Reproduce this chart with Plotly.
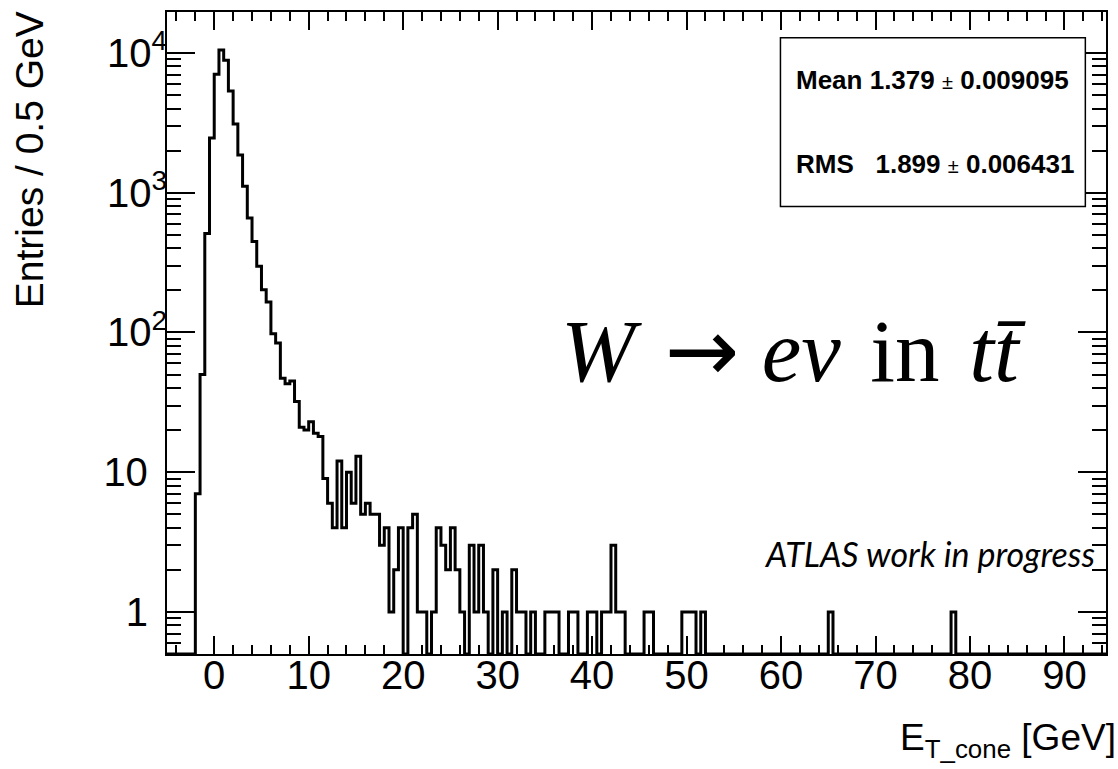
import math
import plotly.graph_objects as go

# ---------------- data ----------------
BIN_WIDTH = 0.5
X_RANGE = [-5.0, 94.4]
Y_MIN = 0.5
Y_MAX_LOG = 4.293
FIRST_BIN_LOW = -2.0          # low edge of first non-empty bin
HIST_LOW, HIST_HIGH = -5.0, 94.5

counts = [
    7, 50, 510, 2460, 7040, 10500, 8870, 5350, 3100, 1860,        # -2.0 .. 2.5
    1110, 660, 447, 298, 202, 165, 98, 84, 47, 43,                 # 3.0 .. 7.5
    45, 32, 21, 20, 23, 19, 18, 9, 6, 4,                           # 8.0 .. 12.5
    12, 4, 10, 6, 13, 5, 6, 5, 5, 3,                               # 13.0 .. 17.5
    4, 1, 2, 4, 0, 4, 5, 1, 1, 0,                                  # 18.0 .. 22.5
    1, 4, 3, 2, 4, 2, 1, 0, 3, 1,                                  # 23.0 .. 27.5
    3, 1, 0, 2, 0, 1, 0, 2, 1, 1,                                  # 28.0 .. 32.5
    0, 1, 0, 0, 1, 1, 1, 0, 0, 1,                                  # 33.0 .. 37.5
    1, 0, 0, 1, 1, 0, 1, 1, 3, 1,                                  # 38.0 .. 42.5
    1, 0, 0, 0, 0, 1, 1, 0, 0, 0,                                  # 43.0 .. 47.5
    0, 0, 0, 1, 1, 1, 0, 1, 0, 0,                                  # 48.0 .. 52.5
    0, 0, 0, 0, 0, 0, 0, 0, 0, 0,                                  # 53.0 .. 57.5
    0, 0, 0, 0, 0, 0, 0, 0, 0, 0,                                  # 58.0 .. 62.5
    0, 0, 0, 0, 1, 0, 0, 0, 0, 0,                                  # 63.0 .. 67.5
    0, 0, 0, 0, 0, 0, 0, 0, 0, 0,                                  # 68.0 .. 72.5
    0, 0, 0, 0, 0, 0, 0, 0, 0, 0,                                  # 73.0 .. 77.5
    1,                                                             # 78.0
]

x_tick_vals = [0, 10, 20, 30, 40, 50, 60, 70, 80, 90]
x_tick_text = ["0", "10", "20", "30", "40", "50", "60", "70", "80", "90"]
y_tick_vals = [1, 10, 100, 1000, 10000]
y_tick_text = ["1\u00a0\u2009", "10\u00a0\u2009", "10<sup>2</sup>", "10<sup>3</sup>", "10<sup>4</sup>"]
y_minor_vals = [m * 10 ** k for k in range(-1, 5) for m in range(2, 10)
                if Y_MIN < m * 10 ** k < 10 ** Y_MAX_LOG]

stat_mean, stat_mean_err = "1.379", "0.009095"
stat_rms, stat_rms_err = "1.899", "0.006431"

x_title = "E<sub>T_cone</sub> [GeV]"
y_title = "Entries / 0.5 GeV"
label_text = "ATLAS work in progress"

# ---------------- build histogram outline ----------------
n_bins = int(round((HIST_HIGH - HIST_LOW) / BIN_WIDTH))
n_pre = int(round((FIRST_BIN_LOW - HIST_LOW) / BIN_WIDTH))
all_counts = [0] * n_pre + counts
all_counts += [0] * (n_bins - len(all_counts))
lows = [HIST_LOW + i * BIN_WIDTH for i in range(n_bins)]
vals = [c if c > 0 else Y_MIN for c in all_counts]
end = HIST_LOW + n_bins * BIN_WIDTH
xs = [lows[0]] + lows + [end, end]
ys = [Y_MIN] + vals + [vals[-1], Y_MIN]

SANS = "Liberation Sans, Arial, Helvetica, sans-serif"
SERIF = "Liberation Serif, DejaVu Serif, serif"

fig = go.Figure()
fig.add_trace(go.Scatter(x=xs, y=ys, mode="lines", line=dict(shape="hv", color="black", width=3),
                         hoverinfo="skip", showlegend=False))

axis_common = dict(showline=True, linecolor="black", linewidth=2, mirror="allticks",
                   showgrid=False, zeroline=False, ticks="inside", tickcolor="black",
                   tickwidth=1.5, tickfont=dict(family=SANS, size=40, color="black"))

fig.update_xaxes(range=X_RANGE, tickmode="array", tickvals=x_tick_vals, ticktext=x_tick_text,
                 ticklen=18, ticklabelstandoff=-15,
                 minor=dict(dtick=2, tick0=0, ticklen=9, ticks="inside",
                            tickcolor="black", tickwidth=1.5),
                 **axis_common)
fig.update_yaxes(type="log", range=[math.log10(Y_MIN), Y_MAX_LOG],
                 tickmode="array", tickvals=y_tick_vals, ticktext=y_tick_text,
                 ticklen=28, ticklabelstandoff=-10,
                 minor=dict(tickmode="array", tickvals=y_minor_vals, ticklen=14,
                            ticks="inside", tickcolor="black", tickwidth=1.5),
                 **axis_common)

# stats box
fig.add_shape(type="rect", xref="paper", yref="paper", x0=0.6533, x1=0.978, y0=0.6972, y1=0.96,
              line=dict(color="black", width=1.5), fillcolor="white", layer="above")
pm = '<span style="font-weight:normal;font-size:20px">\u00b1</span>'
fig.add_annotation(xref="paper", yref="paper", x=0.668, y=0.8942, xanchor="left", yanchor="middle",
                   showarrow=False, text=f"<b>Mean {stat_mean} {pm} {stat_mean_err}</b>",
                   font=dict(family=SANS, size=26, color="black"))
fig.add_annotation(xref="paper", yref="paper", x=0.668, y=0.7628, xanchor="left", yanchor="middle",
                   showarrow=False,
                   text=f"<b>RMS\u00a0\u00a0\u00a0{stat_rms} {pm} {stat_rms_err}</b>",
                   font=dict(family=SANS, size=26, color="black"))

# big process label
arrow = '<span style="font-family:DejaVu Sans">\u2192</span>'
fig.add_annotation(xref="paper", yref="paper", x=0.667, y=0.4728, xanchor="center", yanchor="middle",
                   showarrow=False,
                   text=(f'<i>W</i>\u00a0\u200a{arrow}\u00a0<i>e\u03bd</i>\u00a0\u200ain'
                         f'\u00a0\u200a<i>t</i><i>t\u0304</i>'),
                   font=dict(family=SERIF, size=89, color="black"))

# ATLAS label
fig.add_annotation(xref="paper", yref="paper", x=0.99, y=0.156, xanchor="right", yanchor="middle",
                   showarrow=False, text=f"<i>{label_text}</i>",
                   font=dict(family="Lato, Open Sans, sans-serif", size=34, color="black"))

# axis titles
fig.add_annotation(xref="paper", yref="paper", x=1.013, y=-0.1337, xanchor="right", yanchor="middle",
                   showarrow=False, text=x_title, font=dict(family=SANS, size=37, color="black"))
fig.add_annotation(xref="paper", yref="paper", x=-0.1456, y=1.004, xanchor="center", yanchor="top",
                   showarrow=False, text=y_title, textangle=-90,
                   font=dict(family=SANS, size=39, color="black"))

fig.update_layout(width=1118, height=769, margin=dict(l=167, r=10, t=11, b=115),
                  paper_bgcolor="white", plot_bgcolor="white", showlegend=False)

fig.write_html("out.html")
